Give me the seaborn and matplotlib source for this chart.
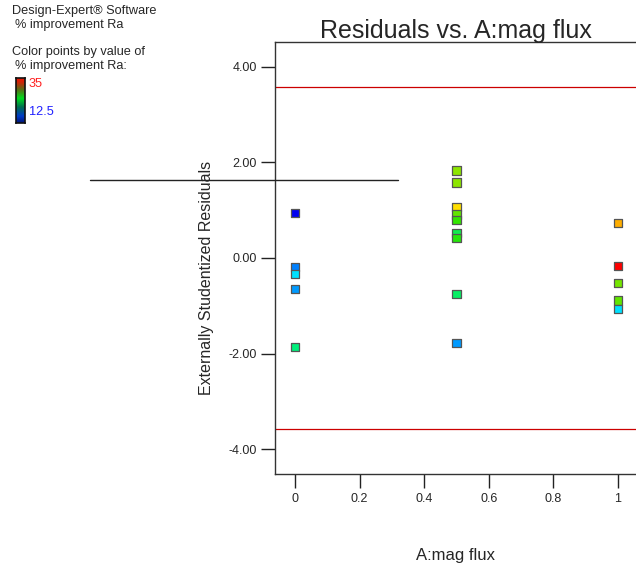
import numpy as np
import pandas as pd
import matplotlib
matplotlib.use("Agg")
import matplotlib.pyplot as plt
from matplotlib.colors import LinearSegmentedColormap, Normalize
from matplotlib.lines import Line2D
import seaborn as sns

# ---- data ----
mag_flux = [0, 0, 0, 0, 0,
            0.5, 0.5, 0.5, 0.5, 0.5, 0.5, 0.5, 0.5, 0.5,
            1, 1, 1, 1, 1]
residuals = [0.94, -0.18, -0.34, -0.64, -1.86,
             1.83, 1.58, 1.07, 0.91, 0.80, 0.52, 0.41, -0.75, -1.77,
             0.73, -0.16, -0.52, -0.89, -1.07]
improvement = [12.5, 15.0, 17.0, 15.5, 21.0,
               26.0, 26.0, 29.0, 25.0, 24.0, 22.0, 23.5, 21.5, 15.5,
               31.0, 35.0, 25.5, 25.0, 17.0]
yticks = [-4, -2, 0, 2, 4]
ytick_labels = ["-4.00", "-2.00", "0.00", "2.00", "4.00"]
xticks = [0, 0.2, 0.4, 0.6, 0.8, 1.0]
xtick_labels = ["0", "0.2", "0.4", "0.6", "0.8", "1"]
limit_value = 3.57
cmin, cmax = 12.5, 35

df = pd.DataFrame({"A:mag flux": mag_flux, "resid": residuals, "imp": improvement})

sns.set_style("white")
plt.rcParams["font.family"] = ["Liberation Sans", "DejaVu Sans"]

cmap = LinearSegmentedColormap.from_list("de", [
    (0.00, (0/255, 0/255, 240/255)),
    (0.12, (0/255, 140/255, 255/255)),
    (0.20, (0/255, 225/255, 255/255)),
    (0.38, (0/255, 240/255, 120/255)),
    (0.50, (40/255, 230/255, 0/255)),
    (0.60, (140/255, 230/255, 0/255)),
    (0.73, (255/255, 225/255, 0/255)),
    (0.83, (255/255, 170/255, 0/255)),
    (1.00, (255/255, 0/255, 0/255)),
])
legend_cmap = LinearSegmentedColormap.from_list("leg", [
    (0.00, (0/255, 20/255, 120/255)),
    (0.15, (0/255, 60/255, 200/255)),
    (0.35, (0/255, 110/255, 80/255)),
    (0.55, (0/255, 220/255, 30/255)),
    (0.75, (90/255, 110/255, 20/255)),
    (0.90, (200/255, 40/255, 10/255)),
    (1.00, (240/255, 20/255, 0/255)),
])
norm = Normalize(cmin, cmax)

W, H = 636, 569
fig = plt.figure(figsize=(W/100, H/100), dpi=100)
ax = fig.add_axes([275/W, 1-474/H, (W-275)/W, (474-42)/H])

sns.scatterplot(data=df, x="A:mag flux", y="resid", hue="imp", palette=cmap,
                hue_norm=norm, marker="s", s=34, edgecolor="#555555",
                linewidth=0.9, legend=False, ax=ax, zorder=3)

ax.axhline(limit_value, color="#cc0000", lw=0.9)
ax.axhline(-limit_value, color="#cc0000", lw=0.9)

ax.set_xlim(-0.062, 1.056)
ax.set_ylim(-4.52, 4.52)
ax.set_yticks(yticks)
ax.set_yticklabels(ytick_labels)
ax.set_xticks(xticks)
ax.set_xticklabels(xtick_labels)
ax.tick_params(axis="both", direction="out", length=10, width=1, color="#222222",
               labelsize=9, left=True, bottom=True)
ax.tick_params(axis="x", pad=3.5)
ax.tick_params(axis="y", pad=3)
for s in ["left", "top", "bottom"]:
    ax.spines[s].set_color("#333333")
    ax.spines[s].set_linewidth(1)
ax.spines["right"].set_visible(False)

ax.set_title("Residuals vs. A:mag flux", fontsize=18, pad=3)
ax.set_xlabel("A:mag flux", fontsize=12, labelpad=31)
ax.set_ylabel("Externally Studentized Residuals", fontsize=11.5)
ax.yaxis.set_label_coords(-0.17, 1 - (278 - 42) / (474 - 42))

# top-left annotations
fs = 9.2
fig.text(12/W, 1-11/H, "Design-Expert\u00ae Software", fontsize=fs, va="center", ha="left")
fig.text(15/W, 1-25/H, "% improvement Ra", fontsize=fs, va="center", ha="left")
fig.text(12/W, 1-52/H, "Color points by value of", fontsize=fs, va="center", ha="left")
fig.text(15/W, 1-66/H, "% improvement Ra:", fontsize=fs, va="center", ha="left")
fig.text(29/W, 1-84/H, "35", fontsize=fs, color="#ff2020", va="center", ha="left")
fig.text(29/W, 1-112/H, "12.5", fontsize=fs, color="#2020ff", va="center", ha="left")

cax = fig.add_axes([16/W, 1-123/H, 9/W, 45/H])
grad = np.linspace(cmax, cmin, 100).reshape(-1, 1)
cax.imshow(grad, aspect="auto", cmap=legend_cmap, norm=norm)
cax.set_xticks([])
cax.set_yticks([])
for s in cax.spines.values():
    s.set_color("#111111")
    s.set_linewidth(1.2)

fig.add_artist(Line2D([90/W, 398/W], [1-180/H, 1-180/H], color="#222222", lw=1,
                      transform=fig.transFigure))

fig.savefig("out.png", dpi=100)
